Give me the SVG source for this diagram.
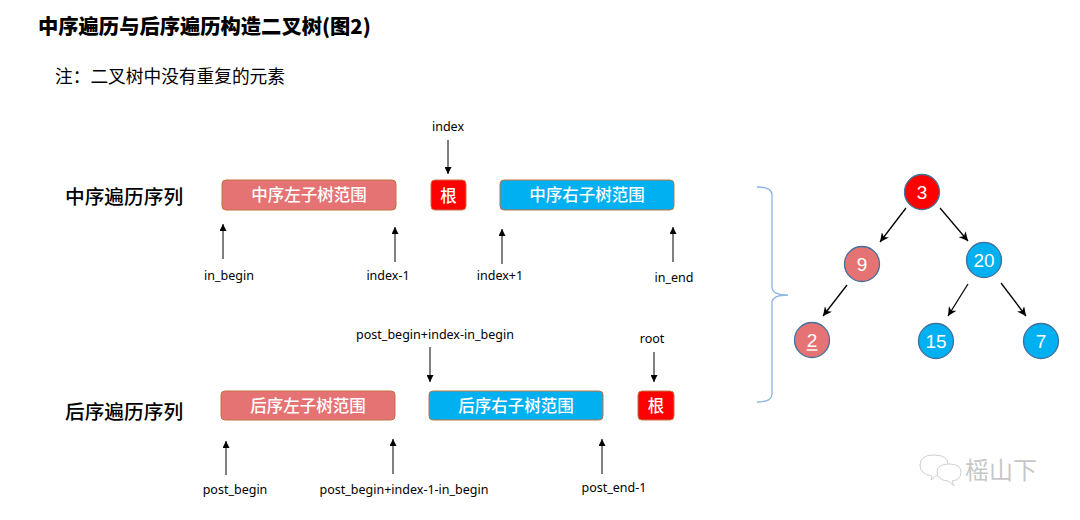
<svg xmlns="http://www.w3.org/2000/svg" width="1080" height="520" viewBox="0 0 1080 520">
<style>
.cjk{font-family:"Noto Sans CJK SC","Noto Sans",sans-serif}
.lbl{font-family:"Noto Sans","Noto Sans CJK SC",sans-serif;font-size:12.5px;fill:#000;text-anchor:middle}
.bx{stroke:#C07440;stroke-width:1}
.red{fill:#E57373}
.blue{fill:#00B0F0}
.root{fill:#FF0000}
.bt{font-family:"Noto Sans CJK SC","Noto Sans",sans-serif;font-size:16.5px;font-weight:500;fill:#fff;text-anchor:middle}
.ar{stroke:#000;stroke-width:1;fill:none;marker-end:url(#ah)}
.ta{stroke:#000;stroke-width:1.3;fill:none;marker-end:url(#ah2)}
.nd{stroke:#41719C;stroke-width:1.3}
.nt{font-family:"Liberation Sans","Noto Sans",sans-serif;font-size:19px;fill:#fff;text-anchor:middle}
</style>
<defs>
<marker id="ah" viewBox="0 0 10 10" refX="10" refY="5" markerWidth="7" markerHeight="7" markerUnits="userSpaceOnUse" orient="auto"><path d="M0,0L10,5L0,10z" fill="#000"/></marker>
<marker id="ah2" viewBox="0 0 10 10" refX="10" refY="5" markerWidth="9" markerHeight="9" markerUnits="userSpaceOnUse" orient="auto"><path d="M0,0L10,5L0,10L3,5z" fill="#000"/></marker>
</defs>
<rect width="1080" height="520" fill="#fff"/>
<text class="cjk" x="38" y="34" font-size="20.3" font-weight="900">中序遍历与后序遍历构造二叉树(图2)</text>
<text class="cjk" x="55" y="83" font-size="17.7">注：二叉树中没有重复的元素</text>
<text class="cjk" x="65" y="204" font-size="19.7" font-weight="500">中序遍历序列</text>
<text class="cjk" x="65" y="419" font-size="19.7" font-weight="500">后序遍历序列</text>

<g id="in-left"><rect class="bx red" x="222" y="180" width="174" height="30" rx="4"/><text class="bt" x="309" y="201">中序左子树范围</text></g>
<g id="in-root"><rect class="bx root" x="431" y="180" width="35" height="30" rx="4"/><text class="bt" x="448.5" y="201.5" font-size="18" font-weight="bold">根</text></g>
<g id="in-right"><rect class="bx blue" x="500" y="180" width="174" height="30" rx="4"/><text class="bt" x="587" y="201">中序右子树范围</text></g>

<g id="post-left"><rect class="bx red" x="221" y="391" width="174" height="29" rx="4"/><text class="bt" x="308" y="411.5">后序左子树范围</text></g>
<g id="post-right"><rect class="bx blue" x="429" y="391" width="174" height="29" rx="4"/><text class="bt" x="516" y="411.5">后序右子树范围</text></g>
<g id="post-root"><rect class="bx root" x="638" y="391" width="36" height="29" rx="4"/><text class="bt" x="656" y="412" font-size="18" font-weight="bold">根</text></g>

<g id="labels">
<text class="lbl" x="448" y="131">index</text>
<text class="lbl" x="229" y="280">in_begin</text>
<text class="lbl" x="388" y="280">index-1</text>
<text class="lbl" x="500" y="280">index+1</text>
<text class="lbl" x="674" y="282">in_end</text>
<text class="lbl" x="435" y="339">post_begin+index-in_begin</text>
<text class="lbl" x="652" y="343">root</text>
<text class="lbl" x="235" y="494">post_begin</text>
<text class="lbl" x="404" y="494">post_begin+index-1-in_begin</text>
<text class="lbl" x="614" y="492">post_end-1</text>
</g>

<g id="connectors">
<line class="ar" x1="448" y1="140" x2="448" y2="174"/>
<line class="ar" x1="223" y1="259" x2="223" y2="224"/>
<line class="ar" x1="395" y1="262" x2="395" y2="227"/>
<line class="ar" x1="502" y1="264" x2="502" y2="229"/>
<line class="ar" x1="673" y1="262" x2="673" y2="227"/>
<line class="ar" x1="430" y1="347" x2="430" y2="382"/>
<line class="ar" x1="654" y1="352" x2="654" y2="382"/>
<line class="ar" x1="226" y1="475" x2="226" y2="441"/>
<line class="ar" x1="393" y1="474" x2="393" y2="439"/>
<line class="ar" x1="602" y1="474" x2="602" y2="439"/>
<line class="ta" x1="906" y1="208" x2="880" y2="242"/>
<line class="ta" x1="940" y1="208" x2="968" y2="241"/>
<line class="ta" x1="847" y1="285" x2="823" y2="316"/>
<line class="ta" x1="968" y1="284" x2="948" y2="316"/>
<line class="ta" x1="1001" y1="283" x2="1026" y2="316"/>
</g>

<path id="brace" d="M757,187 Q772,187 772,195 L772,287 Q772,295 788,295 Q772,295 772,303 L772,394 Q772,402 757,402" fill="none" stroke="#8DB4E2" stroke-width="1.3"/>

<g id="n3"><circle class="nd root" cx="922" cy="192" r="17.5"/><text class="nt" x="922" y="199">3</text></g>
<g id="n9"><circle class="nd red" cx="862" cy="264" r="17.5"/><text class="nt" x="862" y="271">9</text></g>
<g id="n20"><circle class="nd blue" cx="984" cy="260" r="17.5"/><text class="nt" x="984" y="267">20</text></g>
<g id="n2"><circle class="nd red" cx="812" cy="340" r="17.5"/><text class="nt" x="812" y="347">2</text><line x1="806.5" y1="350" x2="817.5" y2="350" stroke="#fff" stroke-width="1.5"/></g>
<g id="n15"><circle class="nd blue" cx="936" cy="341" r="17.5"/><text class="nt" x="936" y="348">15</text></g>
<g id="n7"><circle class="nd blue" cx="1041" cy="341" r="17.5"/><text class="nt" x="1041" y="348">7</text></g>

<g id="watermark" opacity="0.55">
<path d="M932,476 q-12,-2 -12,-11 q0,-10 14,-10 q14,0 14,10 q0,9 -12,11 l-5,4z" fill="#fff" stroke="#aaa" stroke-width="1"/>
<path d="M948,481 q-11,-1 -11,-9 q0,-8 12,-8 q12,0 12,8 q0,8 -9,9 l2,5z" fill="#fff" stroke="#aaa" stroke-width="1"/>
<text x="965" y="479" font-family="Noto Sans CJK SC,sans-serif" font-size="24" fill="#9a9a9a">榣山下</text>
</g>
</svg>
